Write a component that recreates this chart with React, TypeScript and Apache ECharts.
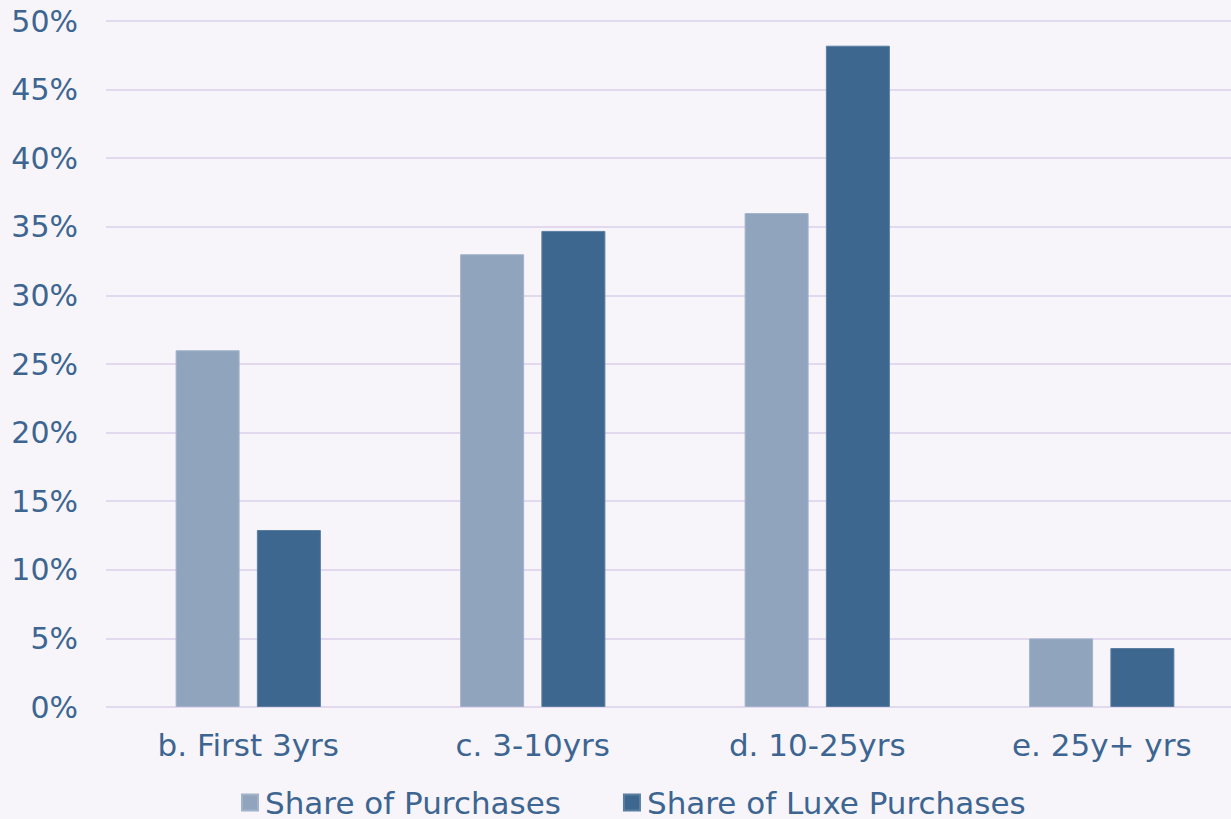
import React, { useEffect, useRef } from "react";
import * as echarts from "echarts";

const categories = ["b. First 3yrs", "c. 3-10yrs", "d. 10-25yrs", "e. 25y+ yrs"];
const sharePurchases = [26.0, 33.0, 36.0, 5.0];
const shareLuxe = [12.9, 34.7, 48.2, 4.3];
const seriesNames = ["Share of Purchases", "Share of Luxe Purchases"];

const TEXT = "#3d6591";
const FONT = "'DejaVu Sans', 'Noto Sans', sans-serif";

export default function App() {
  const ref = useRef<HTMLDivElement>(null);
  useEffect(() => {
    document.body.style.margin = "0";
    const chart = echarts.init(ref.current!, undefined, { renderer: "svg" });
    chart.setOption({
      animation: false,
      backgroundColor: "#f7f5fa",
      grid: { left: 106, right: 0, top: 21, bottom: 112, containLabel: false },
      legend: {
        top: 787,
        left: 241,
        padding: 0,
        itemWidth: 16,
        itemHeight: 16,
        itemGap: 62,
        icon: "rect",
        textStyle: {
          color: TEXT,
          fontSize: 31,
          lineHeight: 30,
          fontFamily: FONT,
          padding: [0, 0, 0, 2],
        },
        data: seriesNames,
      },
      xAxis: {
        type: "category",
        data: categories,
        axisLine: { show: false },
        axisTick: { show: false },
        axisLabel: { color: TEXT, fontSize: 31, fontFamily: FONT, margin: 22 },
      },
      yAxis: {
        type: "value",
        min: 0,
        max: 50,
        interval: 5,
        axisLabel: {
          color: TEXT,
          fontSize: 30,
          fontFamily: FONT,
          margin: 28,
          formatter: (v: number) => `${v}%`,
        },
        axisLine: { show: false },
        axisTick: { show: false },
        splitLine: { lineStyle: { color: "#e2d9ef", width: 2 } },
      },
      series: [
        {
          name: seriesNames[0],
          type: "bar",
          data: sharePurchases,
          barWidth: 64,
          barGap: "27%",
          itemStyle: { color: "#90a4bd", borderColor: "#a2b3c9", borderWidth: 1 },
        },
        {
          name: seriesNames[1],
          type: "bar",
          data: shareLuxe,
          barWidth: 64,
          itemStyle: { color: "#3d678e", borderColor: "#5b7ea0", borderWidth: 1 },
        },
      ],
    });
    return () => chart.dispose();
  }, []);
  return (
    <div
      style={{
        position: "fixed",
        left: 0,
        top: 0,
        width: 1231,
        height: 819,
        overflow: "hidden",
        background: "#f7f5fa",
      }}
    >
      <div ref={ref} style={{ width: 1244, height: 819 }} />
    </div>
  );
}
